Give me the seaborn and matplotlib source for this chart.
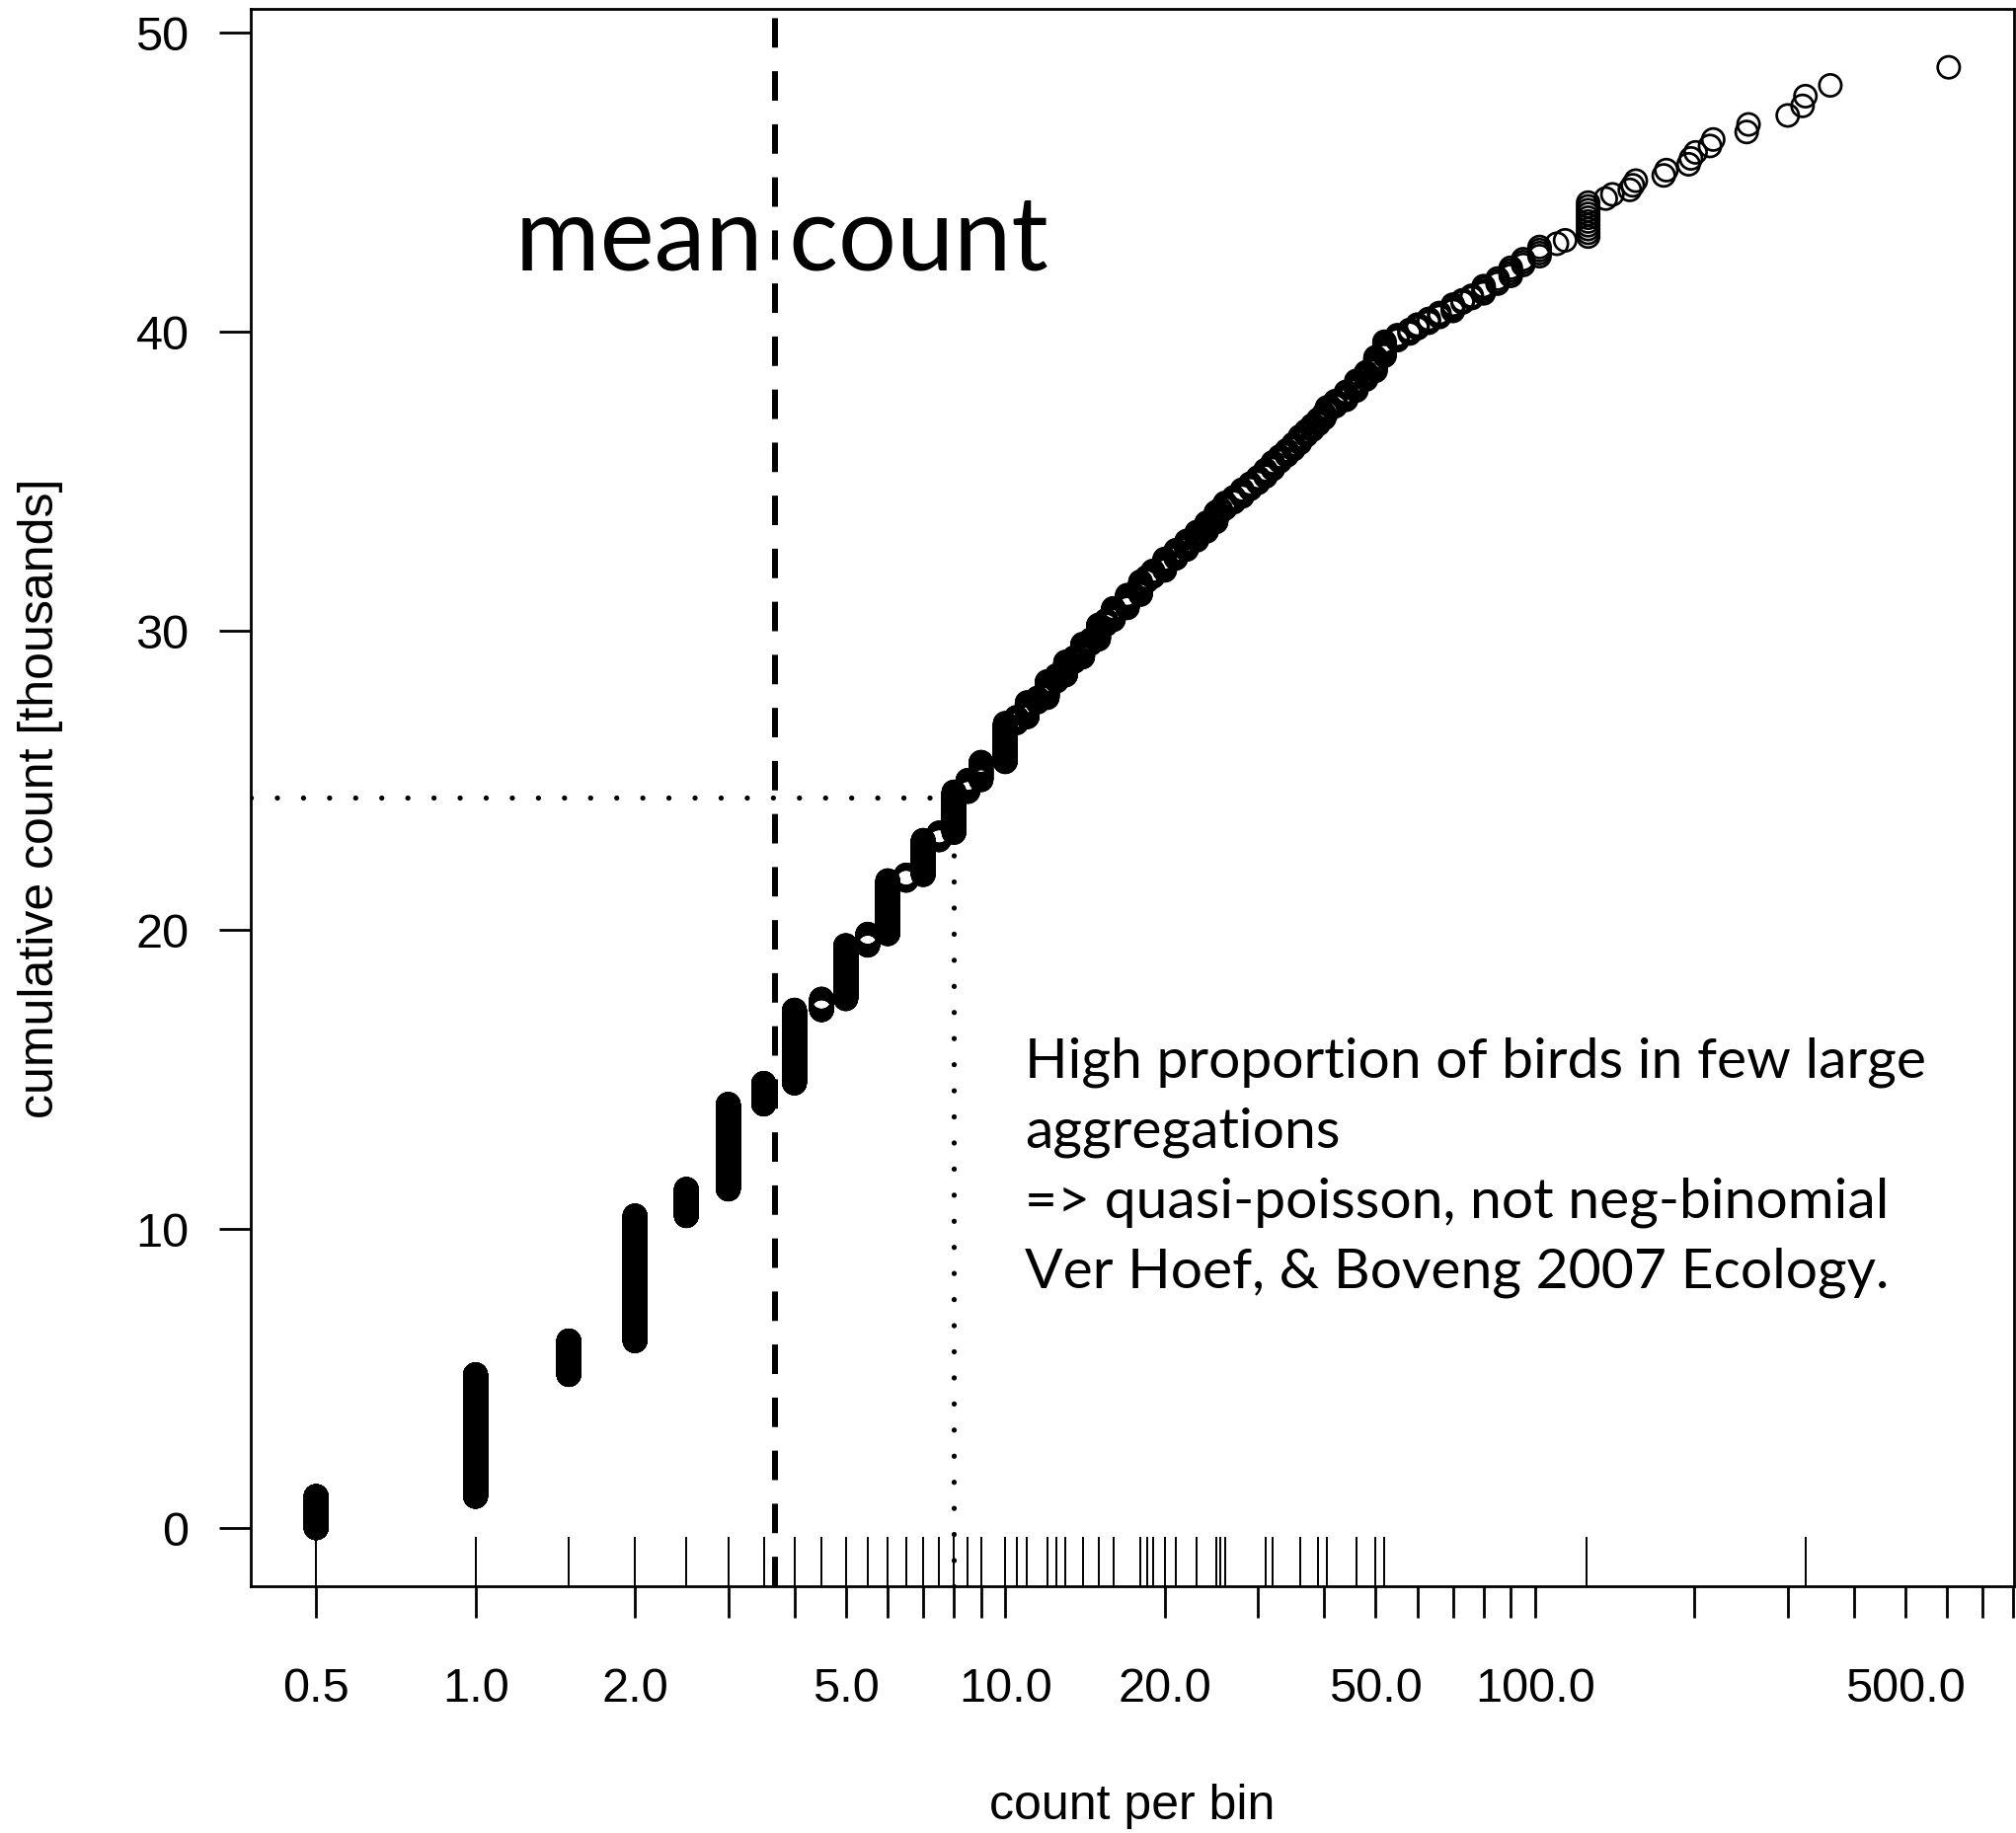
import numpy as np
import pandas as pd
import seaborn as sns
import matplotlib
matplotlib.use('Agg')
import matplotlib.pyplot as plt
from matplotlib.ticker import FixedLocator, FixedFormatter, NullLocator

# distinct counts per bin, and how many bins had that count
count_values = [0.5, 1, 1.5, 2, 2.5, 3, 3.5, 4, 4.5, 5,
                5.5, 6, 6.5, 7, 7.5, 8, 8.5, 9, 10, 10.5,
                11, 11.5, 12, 12.5, 13, 13.5, 14, 14.5, 15, 15.5,
                16, 17, 18, 18.5, 19, 20, 21, 22, 23, 24,
                25, 25.5, 26, 27, 28, 29, 30, 31, 32, 33,
                34, 35, 36, 37, 38, 39, 40, 40.5, 42, 44,
                46, 48, 50, 52, 55, 58, 60, 63, 66, 70,
                73, 76, 80, 85, 90, 95, 102, 110, 114, 126,
                136, 140, 151, 153, 155, 175, 177, 195, 197, 201,
                214, 217, 251, 253, 300, 320, 324, 361, 604]
n_bins = [2100, 4070, 753, 2090, 356, 947, 200, 612, 82, 358,
          69, 298, 29, 166, 33, 171, 46, 67, 130, 19,
          45, 13, 46, 16, 35, 11, 32, 10, 33, 10,
          25, 26, 25, 8, 11, 20, 14, 14, 13, 13,
          14, 4, 8, 7, 9, 7, 7, 8, 8, 6,
          6, 6, 7, 5, 5, 5, 5, 5, 5, 7,
          8, 6, 10, 10, 4, 3, 3, 3, 3, 4,
          2, 2, 4, 3, 4, 3, 4, 1, 1, 10,
          1, 1, 1, 1, 1, 1, 1, 1, 1, 1,
          1, 1, 1, 1, 1, 1, 1, 1, 1]

# values marked with a rug along the bottom
rug_values = [0.5, 1, 1.5, 2, 2.5, 3, 3.5, 4, 4.5, 5, 5.5, 6, 6.5, 7, 7.5, 8,
              8.5, 9, 10, 10.5, 11, 12, 12.5, 13, 14, 15, 16, 18, 18.5, 19,
              20, 21, 23, 25, 25.5, 26, 31, 32, 36, 39, 40.5, 46, 50, 52,
              125, 325]

# log axis ticks, only some get a label (like R does)
x_ticks = [0.5, 1, 2, 3, 4, 5, 6, 7, 8, 9, 10, 20, 30, 40, 50, 60, 70, 80, 90,
           100, 200, 300, 400, 500, 600, 700, 800]
x_labelled = {0.5: '0.5', 1: '1.0', 2: '2.0', 5: '5.0', 10: '10.0',
              20: '20.0', 50: '50.0', 100: '100.0', 500: '500.0'}
y_ticks = [0, 10, 20, 30, 40, 50]

note_lines = ['High proportion of birds in few large',
              'aggregations',
              '=> quasi-poisson, not neg-binomial',
              'Ver Hoef, & Boveng 2007 Ecology.']

sns.set_style('ticks')
plt.rcParams['font.family'] = ['Liberation Sans', 'DejaVu Sans']
for key in ['text.color', 'axes.labelcolor', 'xtick.color', 'ytick.color',
            'axes.edgecolor']:
    plt.rcParams[key] = 'black'

df = pd.DataFrame({'count': np.repeat(count_values, n_bins)})
df['cumulative'] = df['count'].cumsum() / 1000

mean_count = df['count'].mean()
half = df['count'].sum() / 2000
x_half = df.loc[df['cumulative'] >= half, 'count'].iloc[0]

# R style 4% padding
lx = np.log10([df['count'].min(), df['count'].max()])
pad = 0.04 * (lx[1] - lx[0])
xlim = (10 ** (lx[0] - pad), 10 ** (lx[1] + pad))
ly = (df['cumulative'].min(), df['cumulative'].max())
pad = 0.04 * (ly[1] - ly[0])
ylim = (ly[0] - pad, ly[1] + pad)

fig = plt.figure(figsize=(20.42, 18.58), dpi=100)
ax = fig.add_axes([254 / 2042, 250 / 1858, 1786 / 2042, 1598 / 1858])

sns.scatterplot(data=df, x='count', y='cumulative', ax=ax, marker='o', s=257,
                facecolor='none', edgecolor='black', linewidth=1.95,
                legend=False, zorder=2)
sns.rugplot(x=rug_values, ax=ax, height=0.031, color='black', linewidth=1.4,
            expand_margins=False)

ax.axvline(mean_count, color='black', lw=4.3, linestyle=(0, (5, 4)), zorder=3)
dot = dict(color='black', lw=3.8, linestyle=(0, (0.01, 5.0)),
           dash_capstyle='round', zorder=3)
ax.plot([xlim[0], x_half], [half, half], **dot)
ax.plot([x_half, x_half], [ylim[0], half], **dot)

ax.set_xscale('log')
ax.set_xlim(xlim)
ax.set_ylim(ylim)
ax.xaxis.set_major_locator(FixedLocator(x_ticks))
ax.xaxis.set_major_formatter(FixedFormatter([x_labelled.get(t, '') for t in x_ticks]))
ax.xaxis.set_minor_locator(NullLocator())
ax.set_yticks(y_ticks)
ax.set_yticklabels([str(t) for t in y_ticks])

for sp in ax.spines.values():
    sp.set_visible(True)
    sp.set_linewidth(2.0)
    sp.set_color('black')
ax.tick_params(axis='both', length=23, width=2.0, color='black',
               labelcolor='black', labelsize=35)
ax.tick_params(axis='x', pad=35)
ax.tick_params(axis='y', pad=22)

ax.set_xlabel('count per bin', fontsize=36, va='center', color='black')
ax.xaxis.set_label_coords(0.5, -0.139)
ax.set_ylabel('cumulative count [thousands]', fontsize=36, va='center',
              ha='center', color='black')
ax.yaxis.set_label_coords(-0.119, 0.5)

ax.text(3.78, 42.07, 'mean count', fontsize=75, family=['Lato', 'DejaVu Sans'],
        color='black', ha='center', va='baseline')
# baseline of the last line is the anchor
ax.text(10.9, 8.07, '\n'.join(note_lines), fontsize=41,
        family=['Lato', 'DejaVu Sans'], color='black',
        ha='left', va='baseline', linespacing=1.47)

fig.savefig('out.png', dpi=100, facecolor='white')
